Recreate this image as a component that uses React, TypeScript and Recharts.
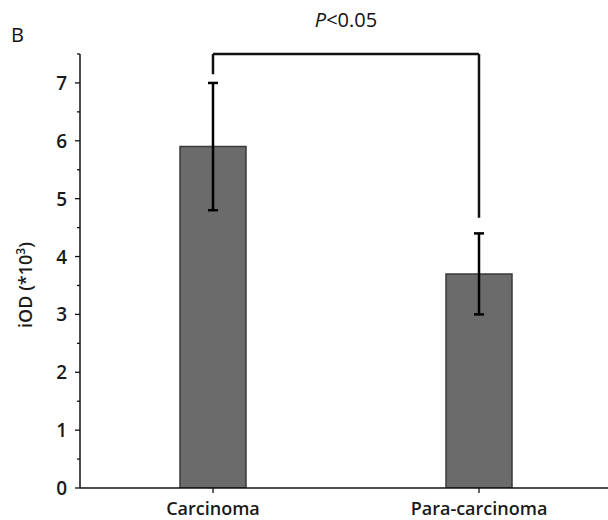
import React from 'react';
import { BarChart, Bar, XAxis, YAxis, ErrorBar, ReferenceLine } from 'recharts';

const categories = ['Carcinoma', 'Para-carcinoma'];
const means = [5.9, 3.7];
const errors = [1.1, 0.7];
const yTicks = [0, 0.5, 1, 1.5, 2, 2.5, 3, 3.5, 4, 4.5, 5, 5.5, 6, 6.5, 7, 7.5];
const yMax = 7.5;
const bracketY = 7.5;
const bracketEnds = [7.15, 4.67];
const pLabel = 'P<0.05';
const panelLabel = 'B';
const yLabel = 'iOD (*10';
const yLabelSup = '3';

const FONT = '"Open Sans", "Noto Sans", sans-serif';

const data = categories.map((c, i) => ({ name: c, value: means[i], err: errors[i] }));

const YTick = (props: any) => {
  const { x, y, payload } = props;
  const isMajor = Number.isInteger(payload.value);
  const ax = x + 13;
  return (
    <g>
      <line x1={ax - (isMajor ? 5 : 3)} x2={ax} y1={y} y2={y} stroke="#111" strokeWidth={1.3} />
      {isMajor && (
        <text x={x} y={y} dy={7} textAnchor="end" fontSize={19} fontWeight={600} fill="#1a1a1a" fontFamily={FONT}>
          {payload.value}
        </text>
      )}
    </g>
  );
};

const PLabel = (props: any) => {
  const vb = props.viewBox || {};
  const cx = (vb.x || 0) + (vb.width || 0) / 2;
  const y = (vb.y || 0) - 27;
  return (
    <text x={cx} y={y} textAnchor="middle" fontSize={20} fontWeight={500} fill="#111" fontFamily={FONT}>
      <tspan fontStyle="italic">{pLabel.charAt(0)}</tspan>
      <tspan>{pLabel.slice(1)}</tspan>
    </text>
  );
};

export default function App() {
  return (
    <div style={{ position: 'absolute', left: 0, top: 0, width: 608, height: 520, overflow: 'hidden', background: '#fff' }}>
      <BarChart width={612} height={520} data={data} margin={{ top: 54, right: 0, bottom: 0, left: 0 }}>
        <XAxis
          dataKey="name"
          type="category"
          height={32}
          tickSize={5}
          tickMargin={9}
          axisLine={{ stroke: '#111', strokeWidth: 1.5 }}
          tickLine={{ stroke: '#111', strokeWidth: 1.3 }}
          tick={{ fontSize: 18, fontWeight: 600, fill: '#1a1a1a', fontFamily: FONT }}
        />
        <YAxis
          type="number"
          domain={[0, yMax]}
          ticks={yTicks}
          interval={0}
          width={80}
          tickSize={5}
          tickMargin={8}
          tickLine={false}
          axisLine={{ stroke: '#111', strokeWidth: 1.5 }}
          tick={<YTick />}
          allowDataOverflow
        />
        <Bar dataKey="value" fill="#6b6b6b" stroke="#3a3a3a" strokeWidth={1.5} barSize={66} isAnimationActive={false}>
          <ErrorBar dataKey="err" width={5} strokeWidth={2.5} stroke="#000" direction="y" isAnimationActive={false} />
        </Bar>
        <ReferenceLine
          segment={[{ x: categories[0], y: bracketY }, { x: categories[1], y: bracketY }]}
          stroke="#111"
          strokeWidth={2.5}
          ifOverflow="visible"
          label={<PLabel />}
        />
        <ReferenceLine
          segment={[{ x: categories[0], y: bracketY }, { x: categories[0], y: bracketEnds[0] }]}
          stroke="#111"
          strokeWidth={2.5}
          ifOverflow="visible"
        />
        <ReferenceLine
          segment={[{ x: categories[1], y: bracketY }, { x: categories[1], y: bracketEnds[1] }]}
          stroke="#111"
          strokeWidth={2.5}
          ifOverflow="visible"
        />
      </BarChart>
      <svg width={608} height={520} style={{ position: 'absolute', left: 0, top: 0, pointerEvents: 'none' }}>
        <text x={11} y={42} fontSize={20} fontWeight={500} fill="#111" fontFamily={FONT}>{panelLabel}</text>
        <text
          x={0}
          y={0}
          transform="translate(32, 285) rotate(-90)"
          textAnchor="middle"
          fontSize={18}
          fontWeight={600}
          fill="#1a1a1a"
          fontFamily={FONT}
        >
          {yLabel}
          <tspan dy={-7} fontSize={12}>{yLabelSup}</tspan>
          <tspan dy={7}>)</tspan>
        </text>
      </svg>
    </div>
  );
}
